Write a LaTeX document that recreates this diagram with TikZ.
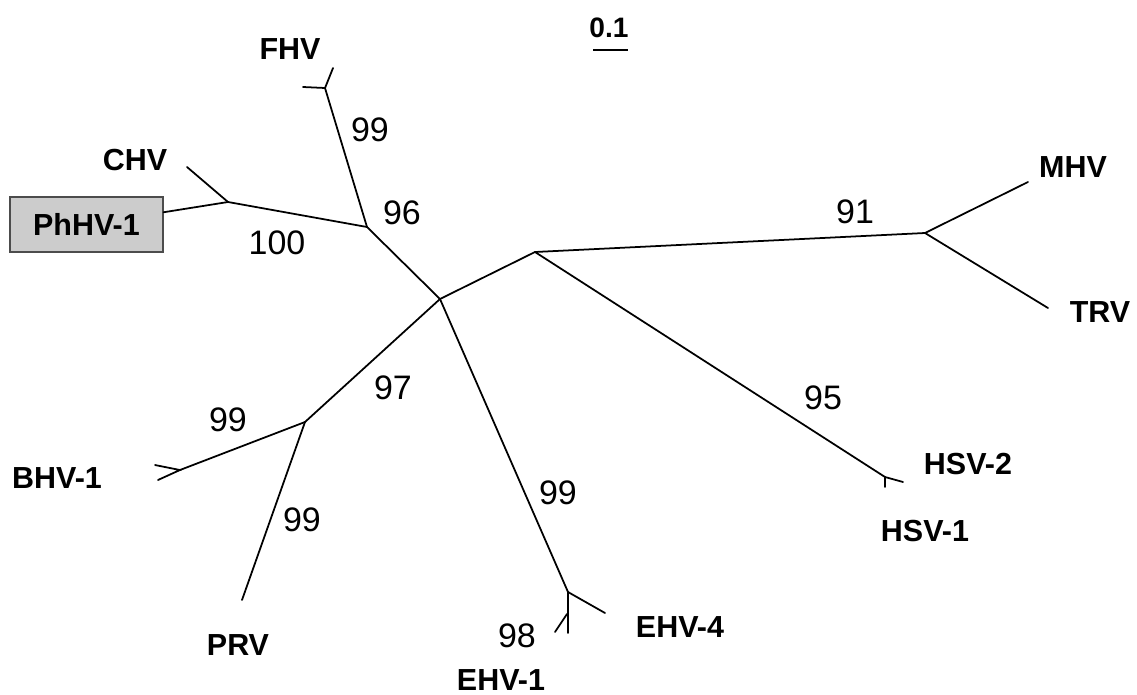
\documentclass[tikz,border=0pt]{standalone}
\usepackage{fontspec}
\setmainfont{Liberation Sans}
\usetikzlibrary{positioning}

\tikzset{
  branch/.style={line width=1.5pt, line cap=round},
  taxon/.style={font=\bfseries\fontsize{26}{26}\selectfont, inner sep=0pt},
  boot/.style={font=\fontsize{29}{29}\selectfont, inner sep=0pt},
}

\begin{document}
\begin{tikzpicture}[x=0.03cm, y=-0.03cm]
\useasboundingbox (0,0) rectangle (1137,695);
%
% inner nodes and tips
\coordinate (hub) at (440,299);
\coordinate (nFC) at (367,227);
\coordinate (nCP) at (228,202);
\coordinate (tCHV) at (187,167);
\coordinate (fFHV) at (325,88);
\coordinate (aFHV) at (303,87);
\coordinate (bFHV) at (333,68);
\coordinate (nB) at (535,252);
\coordinate (nMT) at (925,233);
\coordinate (tMHV) at (1028,182);
\coordinate (tTRV) at (1048,308);
\coordinate (fHSV) at (885,477);
\coordinate (aHSV) at (903,482);
\coordinate (bHSV) at (885,487);
\coordinate (nBP) at (305,422);
\coordinate (fBHV) at (180,470);
\coordinate (aBHV) at (155,465);
\coordinate (bBHV) at (158,480);
\coordinate (tPRV) at (242,600);
\coordinate (fEHV) at (568,592);
\coordinate (tEHV4) at (605,613);
\coordinate (tEHV1) at (568,633);
\coordinate (kEHV) at (567,614);
\coordinate (sEHV) at (555,632);
%
\node[draw=black!70, fill=black!20, line width=1pt, minimum width=153*0.03cm,
  minimum height=55*0.03cm, taxon] (box) at (86.5,224.5) {PhHV-1};
%
% branches
\draw[branch] (nCP) -- (box);
\draw[branch] (nCP) -- (tCHV);
\draw[branch] (nCP) -- (nFC);
\draw[branch] (nFC) -- (fFHV);
\draw[branch] (aFHV) -- (fFHV) -- (bFHV);
\draw[branch] (nFC) -- (hub);
\draw[branch] (hub) -- (nB);
\draw[branch] (nB) -- (nMT);
\draw[branch] (nMT) -- (tMHV);
\draw[branch] (nMT) -- (tTRV);
\draw[branch] (nB) -- (fHSV);
\draw[branch] (aHSV) -- (fHSV) -- (bHSV);
\draw[branch] (hub) -- (nBP);
\draw[branch] (nBP) -- (fBHV);
\draw[branch] (aBHV) -- (fBHV) -- (bBHV);
\draw[branch] (nBP) -- (tPRV);
\draw[branch] (hub) -- (fEHV);
\draw[branch] (fEHV) -- (tEHV4);
\draw[branch] (fEHV) -- (tEHV1);
\draw[branch] (kEHV) -- (sEHV);
%
% taxa
\node[taxon] (FHV) at (290,49) {FHV};
\node[taxon] (CHV) at (135,160) {CHV};
\node[taxon] (MHV) at (1073,167) {MHV};
\node[taxon] (TRV) at (1100,312) {TRV};
\node[taxon] (HSV2) at (968,464) {HSV-2};
\node[taxon] (HSV1) at (925,531) {HSV-1};
\node[taxon] (EHV4) at (680,627) {EHV-4};
\node[taxon] (EHV1) at (501,680) {EHV-1};
\node[taxon] (PRV) at (238,645) {PRV};
\node[taxon] (BHV1) at (57,478) {BHV-1};
%
% bootstrap values
\node[boot] (bFHVv) at (370,130) {99};
\node[boot] (bFC) at (402,213) {96};
\node[boot] (bCP) at (277,243) {100};
\node[boot] (bMT) at (855,212) {91};
\node[boot] (bHSVv) at (823,398) {95};
\node[boot] (bBP) at (393,388) {97};
\node[boot] (bBHVv) at (228,420) {99};
\node[boot] (bPRV) at (302,520) {99};
\node[boot] (bEHV) at (558,493) {99};
\node[boot] (bEHV1) at (517,636) {98};
%
% scale bar
\node[font=\bfseries\fontsize{24}{24}\selectfont, inner sep=0pt] (scale) at (609,28) {0.1};
\coordinate (sbL) at (593,50);
\coordinate (sbR) at (628,50);
\draw[line width=1.8pt] (sbL) -- (sbR);
\end{tikzpicture}
\end{document}
